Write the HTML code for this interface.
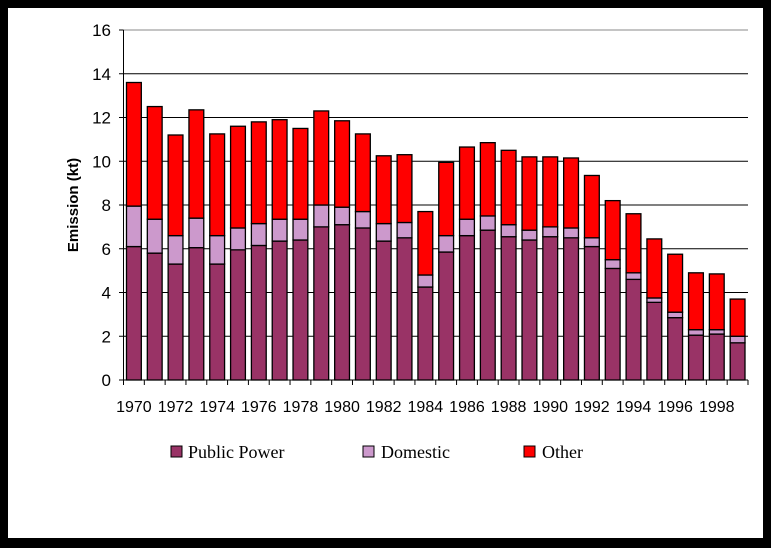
<!DOCTYPE html><html><head><style>body{margin:0;background:#000}svg{display:block}</style></head><body>
<svg id="s" width="771" height="548" xmlns="http://www.w3.org/2000/svg" font-family="Liberation Sans, sans-serif">
<rect width="771" height="548" fill="#000"/>
<rect x="8" y="8" width="755" height="530" fill="#fff"/>
<g id="g"></g>
<text transform="translate(78,205) rotate(-90)" text-anchor="middle" font-size="15" font-weight="bold">Emission (kt)</text>
<g font-family="Liberation Serif, serif" font-size="18">
<rect x="171" y="446" width="11" height="11" fill="#993366" stroke="#000"/><text x="188" y="458">Public Power</text>
<rect x="363" y="446" width="11" height="11" fill="#cc99cc" stroke="#000"/><text x="381" y="458">Domestic</text>
<rect x="524" y="446" width="11" height="11" fill="#ff0000" stroke="#000"/><text x="542" y="458">Other</text>
</g>
</svg>
<script>
var d=[[13.6,6.1,7.95],[12.5,5.8,7.35],[11.2,5.3,6.6],[12.35,6.05,7.4],[11.25,5.3,6.6],[11.6,5.95,6.95],[11.8,6.15,7.15],[11.9,6.35,7.35],[11.5,6.4,7.35],[12.3,7.0,8.0],[11.85,7.1,7.9],[11.25,6.95,7.7],[10.25,6.35,7.15],[10.3,6.5,7.2],[7.7,4.25,4.8],[9.95,5.85,6.6],[10.65,6.6,7.35],[10.85,6.85,7.5],[10.5,6.55,7.1],[10.2,6.4,6.85],[10.2,6.55,7.0],[10.15,6.5,6.95],[9.35,6.1,6.5],[8.2,5.1,5.5],[7.6,4.6,4.9],[6.45,3.55,3.75],[5.75,2.85,3.1],[4.9,2.05,2.3],[4.85,2.1,2.3],[3.7,1.7,2.0]];
var X0=123.5,X1=748,Y0=380,k=21.875,w=(X1-X0)/30,h='';
function y(v){return Y0-v*k}
for(var i=1;i<=8;i++){var yy=y(i*2);h+='<line x1="'+X0+'" x2="'+X1+'" y1="'+yy+'" y2="'+yy+'" stroke="'+(i==8?'#888':'#000')+'"/>';}
for(var i=0;i<=8;i++){var yy=y(i*2);h+='<line x1="119" x2="'+X0+'" y1="'+yy+'" y2="'+yy+'" stroke="#000"/><text x="111" y="'+(yy+6)+'" text-anchor="end" font-size="17">'+i*2+'</text>';}
d.forEach(function(r,i){var x=X0+i*w+3,bw=w-6;
h+='<rect x="'+x+'" y="'+y(r[1])+'" width="'+bw+'" height="'+(r[1]*k)+'" fill="#993366" stroke="#000" stroke-width="1.3"/>';
h+='<rect x="'+x+'" y="'+y(r[2])+'" width="'+bw+'" height="'+((r[2]-r[1])*k)+'" fill="#cc99cc" stroke="#000" stroke-width="1.3"/>';
h+='<rect x="'+x+'" y="'+y(r[0])+'" width="'+bw+'" height="'+((r[0]-r[2])*k)+'" fill="#ff0000" stroke="#000" stroke-width="1.3"/>';
if(i%2==0)h+='<text x="'+(X0+i*w+w/2)+'" y="412" text-anchor="middle" font-size="16">'+(1970+i)+'</text>';});
for(var i=0;i<=30;i++){var xx=X0+i*w;h+='<line x1="'+xx+'" x2="'+xx+'" y1="'+Y0+'" y2="'+(Y0+5)+'" stroke="#000"/>';}
h+='<line x1="'+X0+'" x2="'+X0+'" y1="30" y2="'+Y0+'" stroke="#000"/><line x1="'+X0+'" x2="'+X1+'" y1="'+Y0+'" y2="'+Y0+'" stroke="#000"/>';
document.getElementById('g').innerHTML=h;
</script></body></html>
